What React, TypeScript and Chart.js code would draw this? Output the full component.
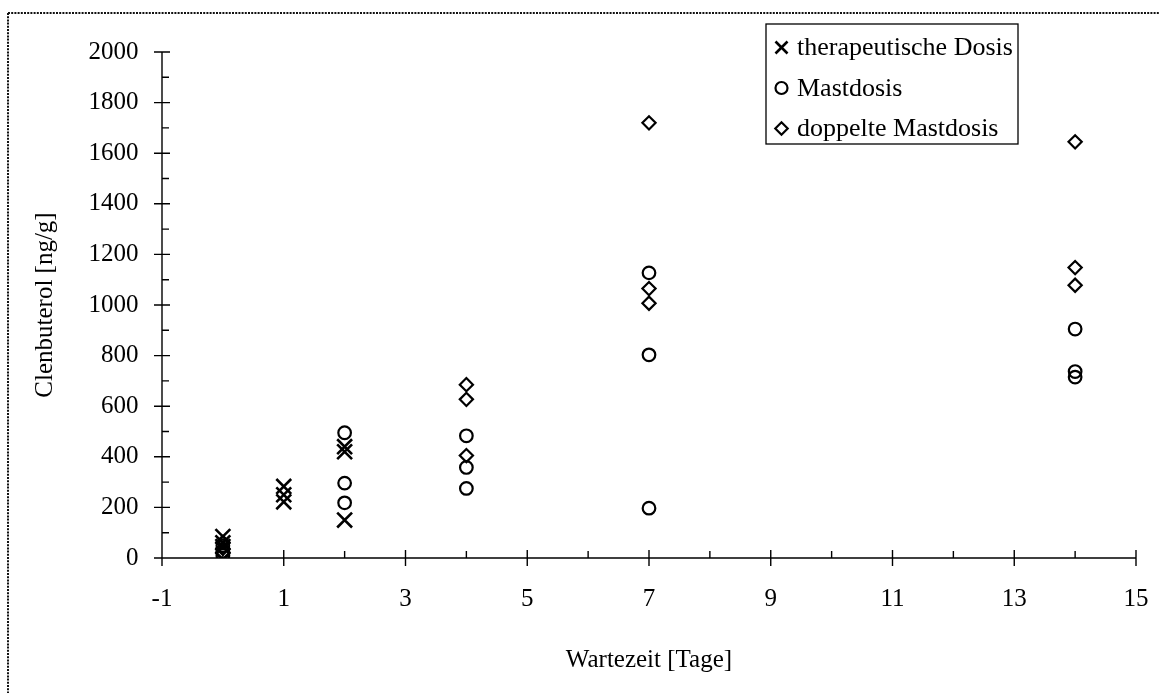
import React, { useEffect, useRef } from 'react';
import { Chart, registerables } from 'chart.js';
import { drawPoint } from 'chart.js/helpers';

Chart.register(...registerables);

// Clenbuterol residues (ng/g) by withdrawal time (days), three dosage groups
const therapeuticDays = [0, 0, 0, 1, 1, 1, 2, 2, 2];
const therapeuticValues = [85, 60, 45, 283, 250, 222, 440, 420, 150];

const fatteningDays = [0, 0, 0, 2, 2, 2, 4, 4, 4, 7, 7, 7, 14, 14, 14];
const fatteningValues = [48, 25, 10, 495, 296, 218, 483, 358, 275, 1127, 803, 197, 905, 737, 715];

const doubleDays = [0, 0, 0, 4, 4, 4, 7, 7, 7, 14, 14, 14];
const doubleValues = [62, 38, 22, 685, 627, 405, 1720, 1065, 1007, 1645, 1148, 1078];

const seriesLabels = ['therapeutische Dosis', 'Mastdosis', 'doppelte Mastdosis'];

const xMajorTicks = [-1, 1, 3, 5, 7, 9, 11, 13, 15];
const xMinorTicks = [0, 2, 4, 6, 8, 10, 12, 14];
const yMajorTicks = [0, 200, 400, 600, 800, 1000, 1200, 1400, 1600, 1800, 2000];
const yMinorTicks = [100, 300, 500, 700, 900, 1100, 1300, 1500, 1700, 1900];

const xTitle = 'Wartezeit [Tage]';
const yTitle = 'Clenbuterol [ng/g]';

const FONT = '"Liberation Serif", "Times New Roman", serif';
const INK = '#000000';

const pairs = (xs: number[], ys: number[]) => xs.map((x, i) => ({ x, y: ys[i] }));

const markerStyles = [
  { pointStyle: 'crossRot', radius: 10.5, borderWidth: 2.6 },
  { pointStyle: 'circle', radius: 6.3, borderWidth: 2.2 },
  { pointStyle: 'rectRot', radius: 6.6, borderWidth: 2.2 },
];
const legendMarkers = [
  { pointStyle: 'crossRot', radius: 8.5, borderWidth: 2.6, rotation: 0 },
  { pointStyle: 'circle', radius: 6, borderWidth: 2.2, rotation: 0 },
  { pointStyle: 'rectRot', radius: 6.2, borderWidth: 2.2, rotation: 0 },
];

// Axis lines with crossing major ticks and inward minor ticks, dotted frame and boxed legend
const decorPlugin = {
  id: 'decor',
  beforeDraw(chart: any) {
    const { ctx, width, height } = chart;
    ctx.save();
    ctx.fillStyle = '#ffffff';
    ctx.fillRect(0, 0, width, height);
    ctx.strokeStyle = '#111111';
    ctx.lineWidth = 2;
    ctx.setLineDash([2, 1.2]);
    ctx.beginPath();
    ctx.moveTo(8, 13);
    ctx.lineTo(width, 13);
    ctx.moveTo(8, 13);
    ctx.lineTo(8, height);
    ctx.stroke();
    ctx.restore();
  },
  beforeDatasetsDraw(chart: any) {
    const { ctx, chartArea, scales } = chart;
    const xs = scales.x;
    const ys = scales.y;
    const x0 = chartArea.left;
    const y0 = chartArea.bottom;
    ctx.save();
    ctx.strokeStyle = INK;
    ctx.lineWidth = 1.4;
    ctx.beginPath();
    ctx.moveTo(x0, ys.getPixelForValue(2000));
    ctx.lineTo(x0, y0);
    ctx.lineTo(xs.getPixelForValue(15), y0);
    for (const v of yMajorTicks) {
      const p = ys.getPixelForValue(v);
      ctx.moveTo(x0 - 8, p);
      ctx.lineTo(x0 + 8, p);
    }
    for (const v of yMinorTicks) {
      const p = ys.getPixelForValue(v);
      ctx.moveTo(x0, p);
      ctx.lineTo(x0 + 7, p);
    }
    for (const v of xMajorTicks) {
      const p = xs.getPixelForValue(v);
      ctx.moveTo(p, y0 - 8);
      ctx.lineTo(p, y0 + 8);
    }
    for (const v of xMinorTicks) {
      const p = xs.getPixelForValue(v);
      ctx.moveTo(p, y0 - 7);
      ctx.lineTo(p, y0);
    }
    ctx.stroke();
    ctx.restore();
  },
  afterDraw(chart: any) {
    const { ctx } = chart;
    const boxLeft = 766;
    const boxTop = 24;
    const boxW = 252;
    const boxH = 120;
    ctx.save();
    ctx.fillStyle = '#ffffff';
    ctx.fillRect(boxLeft, boxTop, boxW, boxH);
    ctx.strokeStyle = INK;
    ctx.lineWidth = 1.3;
    ctx.strokeRect(boxLeft, boxTop, boxW, boxH);
    ctx.font = `26px ${FONT}`;
    ctx.textBaseline = 'alphabetic';
    ctx.textAlign = 'left';
    seriesLabels.forEach((label, i) => {
      const rowY = 47.5 + i * 40.5;
      const marker = legendMarkers[i];
      ctx.strokeStyle = INK;
      ctx.lineWidth = marker.borderWidth;
      ctx.fillStyle = 'rgba(0,0,0,0)';
      drawPoint(ctx, marker as any, 781.5, rowY);
      ctx.fillStyle = INK;
      ctx.fillText(label, 797, rowY + 7.5);
    });
    ctx.restore();
  },
};

export default function App() {
  const canvasRef = useRef<HTMLCanvasElement | null>(null);

  useEffect(() => {
    const canvas = canvasRef.current;
    if (!canvas) return;
    const groups = [
      pairs(therapeuticDays, therapeuticValues),
      pairs(fatteningDays, fatteningValues),
      pairs(doubleDays, doubleValues),
    ];
    const chart = new Chart(canvas, {
      type: 'scatter',
      data: {
        datasets: groups.map((data, i) => ({
          label: seriesLabels[i],
          data,
          pointStyle: markerStyles[i].pointStyle as any,
          pointRadius: markerStyles[i].radius,
          pointHoverRadius: markerStyles[i].radius,
          pointBorderWidth: markerStyles[i].borderWidth,
          borderColor: INK,
          backgroundColor: 'rgba(0,0,0,0)',
        })),
      },
      options: {
        animation: false,
        responsive: true,
        maintainAspectRatio: false,
        events: [],
        layout: { padding: { top: 52, right: 24, left: 0, bottom: 0 } },
        plugins: {
          legend: { display: false },
          tooltip: { enabled: false },
        },
        scales: {
          x: {
            type: 'linear',
            min: -1,
            max: 15,
            border: { display: false },
            grid: { display: false, drawTicks: false },
            afterBuildTicks: (s: any) => {
              s.ticks = xMajorTicks.map((value) => ({ value }));
            },
            afterFit: (s: any) => {
              s.height = 135;
              s.paddingLeft = 0;
              s.paddingRight = 0;
            },
            ticks: {
              autoSkip: false,
              maxRotation: 0,
              padding: 26,
              color: INK,
              font: { family: FONT, size: 25 },
              callback: (v: any) => String(v),
            },
            title: {
              display: true,
              text: xTitle,
              color: INK,
              font: { family: FONT, size: 25 },
              padding: { top: 0, bottom: 18 },
            },
          },
          y: {
            type: 'linear',
            min: 0,
            max: 2000,
            border: { display: false },
            grid: { display: false, drawTicks: false },
            afterBuildTicks: (s: any) => {
              s.ticks = yMajorTicks.map((value) => ({ value }));
            },
            afterFit: (s: any) => {
              s.width = 162;
              s.paddingTop = 0;
              s.paddingBottom = 0;
            },
            ticks: {
              autoSkip: false,
              padding: 23.5,
              color: INK,
              font: { family: FONT, size: 25 },
              callback: (v: any) => String(v),
            },
            title: {
              display: true,
              text: yTitle,
              color: INK,
              font: { family: FONT, size: 25 },
              padding: { top: 30, bottom: 0 },
            },
          },
        },
      },
      plugins: [decorPlugin],
    });
    return () => chart.destroy();
  }, []);

  return (
    <div style={{ position: 'absolute', left: 0, top: 0, width: 1160, height: 693, background: '#ffffff' }}>
      <canvas ref={canvasRef} />
    </div>
  );
}
